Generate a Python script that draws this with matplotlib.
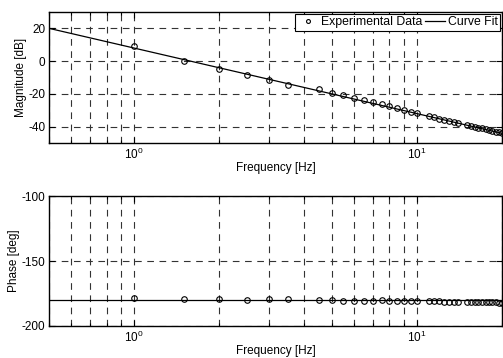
import matplotlib
matplotlib.use('Agg')
import matplotlib.pyplot as plt
from matplotlib.ticker import LogLocator, NullFormatter, FixedLocator

plt.rcParams['font.family'] = ['Liberation Sans', 'DejaVu Sans']
plt.rcParams['mathtext.fontset'] = 'custom'
plt.rcParams['mathtext.rm'] = 'Liberation Sans'
plt.rcParams['axes.unicode_minus'] = False
plt.rcParams['font.size'] = 8.5

#Data
#--------------------------------------------------------
freq = [1, 1.5, 2, 2.5, 3, 3.5, 4.5, 5, 5.5, 6, 6.5, 7, 7.5, 8, 8.5, 9, 9.5, 10,
        11, 11.5, 12, 12.5, 13, 13.5, 14,
        15, 15.5, 16, 16.5, 17, 17.5, 18, 18.5, 19, 19.5, 20]
mag = [9.5, 0.2, -4.8, -8.6, -11.6, -14.5, -17.0, -19.3, -20.9, -22.4, -23.9,
       -25.2, -26.5, -27.7, -28.8, -29.8, -30.8, -31.8,
       -33.6, -34.4, -35.1, -35.8, -36.5, -37.2, -37.8,
       -39.0, -39.5, -40.1, -40.6, -41.1, -41.7, -42.1, -42.6, -43.0, -43.5, -44.0]
phase = [-178.8, -179.0, -179.5, -179.7, -179.2, -179.3, -180.0, -180.3, -180.4,
         -180.5, -180.6, -180.5, -180.0, -180.8, -180.9, -180.9, -181.0, -181.0,
         -181.0, -181.1, -181.1, -181.2, -181.2, -181.3, -181.3,
         -181.5, -181.6, -181.6, -181.7, -181.7, -181.8, -181.8, -181.9, -181.9, -182.0, -182.0]

fit_freq = [0.5, 20]
fit_mag = [20, -44.1]
fit_phase = [-180, -180]

#Figure setup
#--------------------------------------------------------
fig = plt.figure(figsize=(5.03, 3.58), dpi=100)
ax1 = fig.add_axes([0.0974, 0.6006, 0.9006, 0.366])
ax2 = fig.add_axes([0.0974, 0.0894, 0.9006, 0.363])

def styleAxis(ax, ylim, yticks):
    ax.set_xscale('log')
    ax.set_xlim(0.5, 20)
    ax.set_ylim(*ylim)
    ax.yaxis.set_major_locator(FixedLocator(yticks))
    ax.xaxis.set_major_locator(LogLocator(base=10))
    ax.xaxis.set_minor_locator(LogLocator(base=10, subs=range(2, 10)))
    ax.xaxis.set_minor_formatter(NullFormatter())
    ax.tick_params(which='both', direction='in', top=True, right=True,
                   colors='black', labelsize=8.5, width=0.8)
    ax.tick_params(which='major', length=4, pad=2.5)
    ax.tick_params(which='minor', length=2.5)
    ax.grid(True, which='both', axis='x', color='0.2', linestyle=(0, (6, 5)), linewidth=0.8)
    ax.grid(True, which='major', axis='y', color='0.2', linestyle=(0, (6, 5)), linewidth=0.8)
    for s in ax.spines.values():
        s.set_linewidth(1.0)
    ax.set_xlabel('Frequency [Hz]', labelpad=0.5)

#Magnitude
styleAxis(ax1, (-50, 30), [-40, -20, 0, 20])
ax1.plot(freq, mag, 'o', mfc='none', mec='black', ms=4, mew=0.8, label='Experimental Data')
ax1.plot(fit_freq, fit_mag, '-', color='black', lw=0.9, label='Curve Fit')
ax1.set_ylabel('Magnitude [dB]', labelpad=1)
leg = ax1.legend(loc='upper right', ncol=2, frameon=True, fancybox=False, framealpha=1,
                 edgecolor='black', borderaxespad=0.15, borderpad=0.2, handlelength=1.7,
                 handletextpad=0.2, columnspacing=0.2, fontsize=8.8, markerscale=0.7)
leg.get_frame().set_linewidth(0.8)

#Phase
styleAxis(ax2, (-200, -100), [-200, -150, -100])
ax2.plot(freq, phase, 'o', mfc='none', mec='black', ms=4, mew=0.8)
ax2.plot(fit_freq, fit_phase, '-', color='black', lw=0.9)
ax2.set_ylabel('Phase [deg]', labelpad=1)

fig.savefig('out.png', dpi=100)
